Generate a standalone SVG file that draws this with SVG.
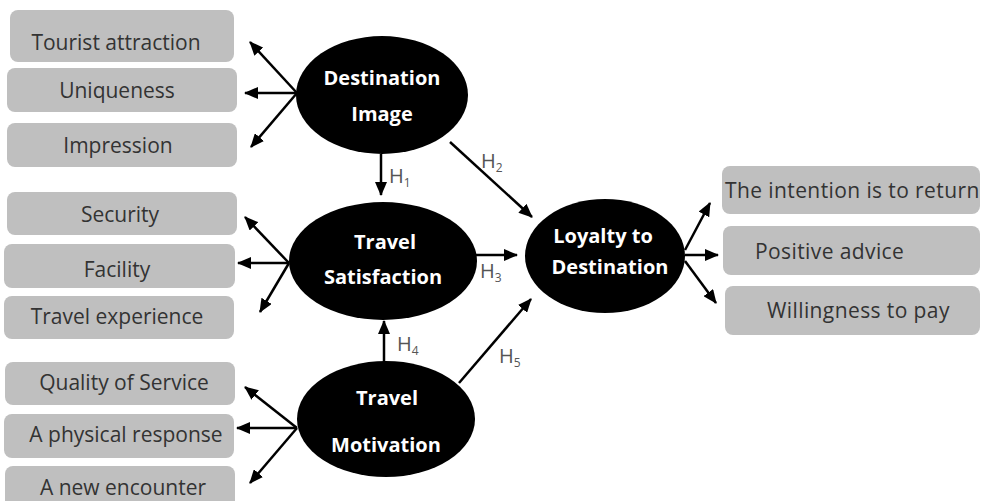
<svg xmlns="http://www.w3.org/2000/svg" width="982" height="501" viewBox="0 0 982 501">
<style>
.box{fill:#bfbfbf;}
.bt{font-family:"Open Sans","Liberation Sans",sans-serif;font-size:21px;fill:#333;text-anchor:middle;}
.bl{font-family:"Open Sans","Liberation Sans",sans-serif;font-size:21px;fill:#333;letter-spacing:0.4px;}
.ell{fill:#000;}
.et{font-family:"Open Sans","Liberation Sans",sans-serif;font-size:20px;font-weight:bold;fill:#fff;text-anchor:middle;}
.c{stroke:#000;stroke-width:2.5;fill:none;marker-end:url(#ah);}
.h{font-family:"Open Sans","Liberation Sans",sans-serif;font-size:20px;fill:#555;}
.s{font-size:12px;}
</style>
<defs>
<marker id="ah" markerUnits="userSpaceOnUse" markerWidth="14" markerHeight="12" refX="13" refY="6" orient="auto">
<path d="M0,0 L14,6 L0,12 z" fill="#000"/>
</marker>
</defs>
<rect width="982" height="501" fill="#fff"/>

<g id="tourist-attraction"><rect class="box" x="10" y="10" width="224" height="52" rx="8"/><text class="bt" x="116" y="50">Tourist attraction</text></g>
<g id="uniqueness"><rect class="box" x="7" y="68" width="230" height="44" rx="8"/><text class="bt" x="117" y="98">Uniqueness</text></g>
<g id="impression"><rect class="box" x="7" y="123" width="230" height="44" rx="8"/><text class="bt" x="118" y="153">Impression</text></g>

<g id="security"><rect class="box" x="7" y="192" width="230" height="43" rx="8"/><text class="bt" x="120" y="222">Security</text></g>
<g id="facility"><rect class="box" x="4" y="244" width="231" height="44" rx="8"/><text class="bt" x="117" y="277">Facility</text></g>
<g id="travel-experience"><rect class="box" x="4" y="296" width="230" height="43" rx="8"/><text class="bt" x="117" y="324">Travel experience</text></g>

<g id="quality-of-service"><rect class="box" x="5" y="362" width="230" height="43" rx="8"/><text class="bt" x="124" y="390">Quality of Service</text></g>
<g id="physical-response"><rect class="box" x="4" y="414" width="230" height="44" rx="8"/><text class="bt" x="126" y="442">A physical response</text></g>
<g id="new-encounter"><rect class="box" x="5" y="466" width="230" height="50" rx="8"/><text class="bt" x="123" y="495">A new encounter</text></g>

<g id="intention-return"><rect class="box" x="722" y="166" width="258" height="48" rx="8"/><text class="bl" x="725" y="198">The intention is to return</text></g>
<g id="positive-advice"><rect class="box" x="723" y="226" width="257" height="49" rx="8"/><text class="bl" x="755" y="259">Positive advice</text></g>
<g id="willingness-pay"><rect class="box" x="725" y="286" width="255" height="49" rx="8"/><text class="bl" x="767" y="318">Willingness to pay</text></g>

<g id="destination-image"><ellipse class="ell" cx="382" cy="95" rx="86" ry="59"/><text class="et" x="382" y="85">Destination</text><text class="et" x="382" y="121">Image</text></g>
<g id="travel-satisfaction"><ellipse class="ell" cx="383" cy="261" rx="94" ry="59"/><text class="et" x="385" y="249">Travel</text><text class="et" x="383" y="284">Satisfaction</text></g>
<g id="travel-motivation"><ellipse class="ell" cx="386" cy="419" rx="89" ry="58"/><text class="et" x="387" y="405">Travel</text><text class="et" x="386" y="452">Motivation</text></g>
<g id="loyalty"><ellipse class="ell" cx="605" cy="256" rx="80" ry="57"/><text class="et" x="603" y="243">Loyalty to</text><text class="et" x="610" y="274">Destination</text></g>

<g id="connectors">
<line class="c" x1="297" y1="93" x2="250" y2="42"/>
<line class="c" x1="297" y1="93" x2="245" y2="93"/>
<line class="c" x1="297" y1="93" x2="251" y2="147"/>
<line class="c" x1="289" y1="263" x2="245" y2="217"/>
<line class="c" x1="289" y1="263" x2="238" y2="263"/>
<line class="c" x1="289" y1="263" x2="260" y2="312"/>
<line class="c" x1="297" y1="428" x2="245" y2="387"/>
<line class="c" x1="297" y1="428" x2="237" y2="428"/>
<line class="c" x1="297" y1="428" x2="250" y2="483"/>
<line class="c" x1="685" y1="250" x2="710" y2="203"/>
<line class="c" x1="685" y1="255" x2="718" y2="255"/>
<line class="c" x1="685" y1="261" x2="716" y2="303"/>
<line class="c" x1="381" y1="154" x2="381" y2="195"/>
<line class="c" x1="450" y1="142" x2="532" y2="217"/>
<line class="c" x1="476" y1="255" x2="517" y2="255"/>
<line class="c" x1="384" y1="362" x2="384" y2="321"/>
<line class="c" x1="459" y1="383" x2="531" y2="299"/>
<text class="h" x="389" y="183">H<tspan class="s" dy="4">1</tspan></text>
<text class="h" x="481" y="168">H<tspan class="s" dy="4">2</tspan></text>
<text class="h" x="480" y="278">H<tspan class="s" dy="4">3</tspan></text>
<text class="h" x="397" y="351">H<tspan class="s" dy="4">4</tspan></text>
<text class="h" x="499" y="363">H<tspan class="s" dy="4">5</tspan></text>
</g>
</svg>
